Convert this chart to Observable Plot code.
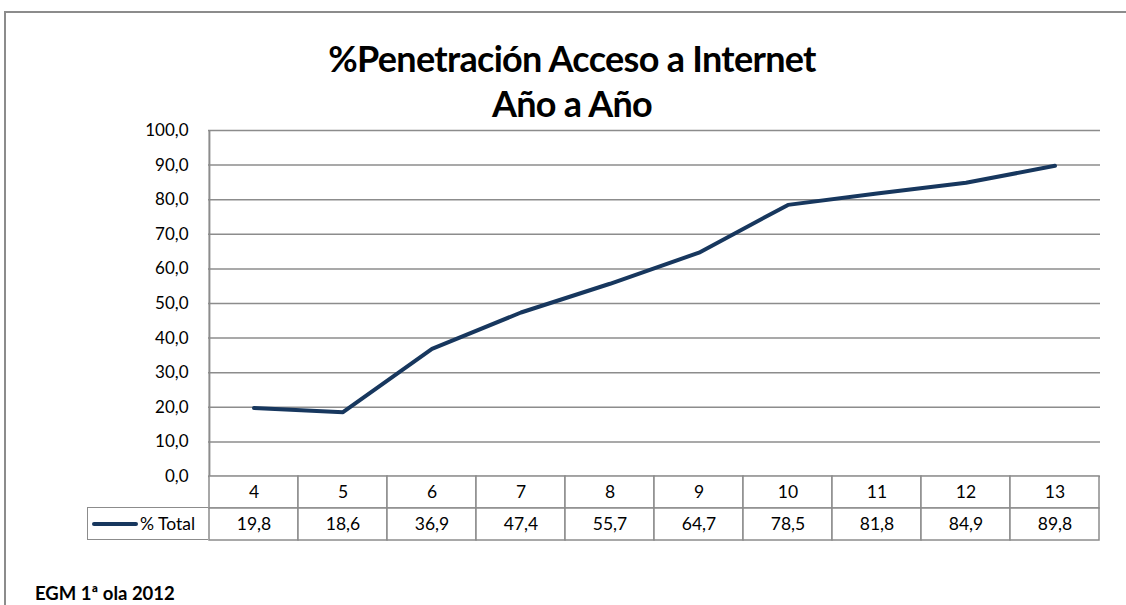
<!DOCTYPE html>
<html>
<head>
<meta charset="utf-8">
<script src="https://cdn.jsdelivr.net/npm/d3@7"></script>
<script src="https://cdn.jsdelivr.net/npm/@observablehq/plot@0.6"></script>
<style>
  html, body { margin: 0; padding: 0; background: #fff; overflow: hidden; }
  body { width: 1126px; height: 605px; position: relative; font-family: Lato, "Open Sans", sans-serif; }
  #frame { position: absolute; left: 4px; top: 11px; width: 1300px; height: 800px;
           border-top: 2px solid #8c8c8c; border-left: 2px solid #8c8c8c; }
  #title { position: absolute; left: 9px; top: 36px; width: 1126px; text-align: center;
           font-weight: bold; font-size: 36px; line-height: 45px; color: #000; letter-spacing: -0.7px; }
  #chart { position: absolute; left: 0; top: 115px; }
  #table { position: absolute; left: 0; top: 475px; }
  #legend { position: absolute; left: 87px; top: 507px; width: 121px; height: 33px;
            border: 1.5px solid #8c8c8c; border-right: none; box-sizing: border-box;
            display: flex; align-items: center; font-size: 17.5px; color: #000; }
  #legend svg { margin-left: 3px; margin-right: 1px; }
  #footer { position: absolute; left: 35px; top: 582px; font-weight: bold; font-size: 18.5px; color: #000; }
</style>
</head>
<body>
<div id="frame"></div>
<div id="title">%Penetración Acceso a Internet<br>Año a Año</div>
<div id="chart"></div>
<div id="table"></div>
<div id="legend"></div>
<div id="footer">EGM 1ª ola 2012</div>
<script>
const categories = ["4", "5", "6", "7", "8", "9", "10", "11", "12", "13"];
const totals = [19.8, 18.6, 36.9, 47.4, 55.7, 64.7, 78.5, 81.8, 84.9, 89.8];
const yTicks = [0, 10, 20, 30, 40, 50, 60, 70, 80, 90, 100];
const seriesName = "% Total";
const lineColor = "#17375E";
const gridColor = "#8c8c8c";

const fmt = d => d.toFixed(1).replace(".", ",");
const data = categories.map((c, i) => ({cat: c, value: totals[i]}));

const chart = Plot.plot({
  width: 1126,
  height: 381,
  marginTop: 15,
  marginBottom: 20,
  marginLeft: 208,
  marginRight: 26,
  style: {fontFamily: "Lato, 'Open Sans', sans-serif", fontSize: "17px", color: "#000", background: "transparent", overflow: "visible"},
  x: {type: "band", domain: categories, padding: 0, axis: null},
  y: {domain: [0, 100], ticks: yTicks, tickFormat: fmt, tickSize: 0, tickPadding: 20, label: null},
  marks: [
    Plot.ruleY(yTicks, {stroke: gridColor, strokeWidth: 1.5, strokeOpacity: 1}),
    Plot.ruleX([categories[0]], {stroke: gridColor, strokeWidth: 2, dx: -44.6, y1: 0, y2: 100}),
    Plot.line(data, {x: "cat", y: "value", stroke: lineColor, strokeWidth: 4, strokeLinecap: "round", strokeLinejoin: "round"})
  ]
});
document.getElementById("chart").appendChild(chart);

const rows = ["header", "value"];
const cells = [];
categories.forEach((c, i) => {
  cells.push({cat: c, row: "header", text: c});
  cells.push({cat: c, row: "value", text: fmt(totals[i])});
});

const table = Plot.plot({
  width: 1126,
  height: 66,
  marginTop: 0.75,
  marginBottom: 0.75,
  marginLeft: 208,
  marginRight: 26,
  style: {fontFamily: "Lato, 'Open Sans', sans-serif", fontSize: "17px", color: "#000", background: "transparent"},
  x: {type: "band", domain: categories, padding: 0, axis: null},
  y: {type: "band", domain: rows, padding: 0, axis: null},
  marks: [
    Plot.cell(cells, {x: "cat", y: "row", fill: "#fff", stroke: gridColor, strokeWidth: 1.5, inset: 0}),
    Plot.text(cells, {x: "cat", y: "row", text: "text", fill: "#000", fontSize: 17.5})
  ]
});
document.getElementById("table").appendChild(table);

const legend = document.getElementById("legend");
legend.innerHTML = `<svg width="48" height="10"><line x1="3" y1="5" x2="45" y2="5" stroke="${lineColor}" stroke-width="4" stroke-linecap="round"/></svg><span>${seriesName}</span>`;
</script>
</body>
</html>
